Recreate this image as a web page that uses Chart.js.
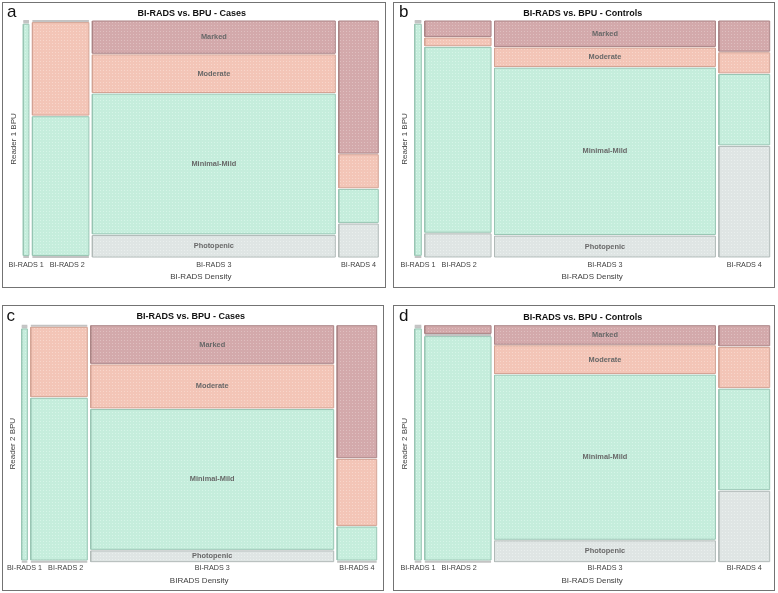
<!DOCTYPE html>
<html>
<head>
<meta charset="utf-8">
<script src="https://cdn.jsdelivr.net/npm/chart.js@4.4.1/dist/chart.umd.min.js"></script>
<style>
    body { margin: 0; background: #fff; width: 778px; height: 593px; position: relative; overflow: hidden; font-family: "Liberation Sans", Arial, sans-serif; }
    .panel { position: absolute; border: 1px solid #737373; box-sizing: border-box; background: #fff; }
    .panel canvas { position: absolute; left: 0; top: 0; }
    .tag { position: absolute; font-size: 17px; line-height: 17px; color: #111; }
</style>
</head>
<body>
<div class="panel" style="left:2px;top:2px;width:384px;height:286px"><canvas id="chartA" width="382" height="284"></canvas><div class="tag" style="left:4px;top:0px">a</div></div>
<div class="panel" style="left:393px;top:2px;width:382px;height:286px"><canvas id="chartB" width="380" height="284"></canvas><div class="tag" style="left:5px;top:0px">b</div></div>
<div class="panel" style="left:2px;top:305px;width:382px;height:286px"><canvas id="chartC" width="380" height="284"></canvas><div class="tag" style="left:3.5px;top:0.5px">c</div></div>
<div class="panel" style="left:393px;top:305px;width:382px;height:286px"><canvas id="chartD" width="380" height="284"></canvas><div class="tag" style="left:5px;top:0.5px">d</div></div>
<script>
// Kategórie na osi X (šírka stĺpca = počet prípadov) a kategórie BPU zdola nahor
const densityLabels = ["BI-RADS 1", "BI-RADS 2", "BI-RADS 3", "BI-RADS 4"];
const bpuLabels = ["Photopenic", "Minimal-Mild", "Moderate", "Marked"];

// a - Reader 1, Cases (počty v stĺpcoch BI-RADS 1..4)
const r1CasesPhotopenic  = [0, 0, 4, 1];
const r1CasesMinimalMild = [1, 6, 26, 1];
const r1CasesModerate    = [0, 4, 7, 1];
const r1CasesMarked      = [0, 0, 6, 4];

// b - Reader 1, Controls
const r1CtrlPhotopenic  = [0, 3, 9, 11];
const r1CtrlMinimalMild = [3, 24, 72, 7];
const r1CtrlModerate    = [0, 1, 8, 2];
const r1CtrlMarked      = [0, 2, 11, 3];

// c - Reader 2, Cases
const r2CasesPhotopenic  = [0, 0, 2, 0];
const r2CasesMinimalMild = [1, 7, 26, 1];
const r2CasesModerate    = [0, 3, 8, 2];
const r2CasesMarked      = [0, 0, 7, 4];

// d - Reader 2, Controls
const r2CtrlPhotopenic  = [0, 0, 9, 7];
const r2CtrlMinimalMild = [3, 29, 71, 10];
const r2CtrlModerate    = [0, 0, 12, 4];
const r2CtrlMarked      = [0, 1, 8, 2];

// Farby buniek (rovnaké poradie ako bpuLabels)
const fillColors = ["#dfe5e4", "#c5eddc", "#f3c5b7", "#d3a9ab"];
const dotColors  = ["#eaefee", "#d6f5e8", "#f8d6cb", "#dfbfc0"];
const edgeColors = ["#b1bab8", "#98c5b3", "#d3a394", "#aa8385"];
const zeroColor = "#c3c3c3";

const GAP_X = 1.0;     // medzera medzi stĺpcami (v jednotkách osi)
const GAP_Y = 0.7;     // medzera medzi bunkami
const LABEL_GAP = 6;   // min. medzera medzi popiskami osi X (px)

Chart.defaults.font.family = "'Liberation Sans', Arial, sans-serif";

// Jemný bodkovaný vzor výplne
function makePattern(base, dot) {
    const c = document.createElement("canvas");
    c.width = 3; c.height = 3;
    const g = c.getContext("2d");
    g.fillStyle = base;
    g.fillRect(0, 0, 3, 3);
    g.fillStyle = dot;
    g.fillRect(1, 1, 1, 1);
    return g.createPattern(c, "repeat");
}

// Vytvorí obdĺžniky mozaiky ako uzavreté čiary
function mosaicDatasets(series) {
    const colTotals = densityLabels.map((_, i) => series.reduce((s, arr) => s + arr[i], 0));
    const total = colTotals.reduce((a, b) => a + b, 0);
    const widest = colTotals.indexOf(Math.max(...colTotals));
    const sets = [];
    const centers = [];
    let cumX = 0;
    colTotals.forEach((ct, i) => {
        const x0 = cumX / total * 100 + i * GAP_X;
        const x1 = x0 + ct / total * 100;
        centers.push((x0 + x1) / 2);
        cumX += ct;
        let cumY = 0;
        series.forEach((arr, j) => {
            const v = arr[i];
            const y0 = cumY / ct * 100 + j * GAP_Y;
            const y1 = y0 + v / ct * 100;
            cumY += v;
            sets.push({
                data: [{x: x0, y: y0}, {x: x1, y: y0}, {x: x1, y: y1}, {x: x0, y: y1}, {x: x0, y: y0}],
                showLine: true,
                fill: v > 0 ? "shape" : false,
                backgroundColor: makePattern(fillColors[j], dotColors[j]),
                borderColor: v > 0 ? edgeColors[j] : zeroColor,
                borderWidth: v > 0 ? 1 : 2,
                pointRadius: 0,
                pointHoverRadius: 0,
                tension: 0,
                borderJoinStyle: "miter",
                clip: false,
                cellText: (i === widest && v > 0) ? bpuLabels[j] : null
            });
        });
    });
    return {sets, centers};
}

// Popisky buniek v najširšom stĺpci
const cellTextPlugin = {
    id: "cellText",
    afterDatasetsDraw(chart) {
        const {ctx, scales: {x, y}} = chart;
        ctx.save();
        ctx.font = "bold 7.4px 'Liberation Sans', Arial, sans-serif";
        ctx.fillStyle = "#686868";
        ctx.textAlign = "center";
        ctx.textBaseline = "middle";
        chart.data.datasets.forEach(ds => {
            if (!ds.cellText) return;
            const cx = x.getPixelForValue((ds.data[0].x + ds.data[1].x) / 2);
            const cy = y.getPixelForValue((ds.data[0].y + ds.data[2].y) / 2);
            ctx.fillText(ds.cellText, cx, cy);
        });
        ctx.restore();
    }
};

// Popisky osi X sa nesmú prekrývať - posunie ich doprava
const tickSpreadPlugin = {
    id: "tickSpread",
    beforeDraw(chart) {
        const items = chart.scales.x.getLabelItems();
        const ctx = chart.ctx;
        let prevRight = -Infinity;
        ctx.save();
        items.forEach(item => {
            ctx.font = item.font.string;
            const w = ctx.measureText(item.label).width;
            let cx = item.options.translation[0];
            if (cx - w / 2 < prevRight + LABEL_GAP) cx = prevRight + LABEL_GAP + w / 2;
            item.options.translation[0] = cx;
            prevRight = cx + w / 2;
        });
        ctx.restore();
    }
};

function VytvorMozaiku(p) {
    const {sets, centers} = mosaicDatasets(p.series);
    return new Chart(document.getElementById(p.canvas), {
        type: "scatter",
        data: { datasets: sets },
        options: {
            responsive: false,
            animation: false,
            events: [],
            layout: { padding: p.pad },
            plugins: {
                legend: { display: false },
                tooltip: { enabled: false },
                title: {
                    display: true,
                    text: p.title,
                    color: "#111",
                    font: { size: 9, weight: "bold" },
                    padding: p.titlePad
                }
            },
            scales: {
                x: {
                    type: "linear",
                    min: 0,
                    max: 100 + 3 * GAP_X,
                    grid: { display: false, drawTicks: false },
                    border: { display: false },
                    afterBuildTicks: scale => { scale.ticks = centers.map(c => ({value: c})); },
                    ticks: {
                        autoSkip: false,
                        maxRotation: 0,
                        padding: p.tickPad,
                        color: "#404040",
                        font: { size: 7.2 },
                        callback: (v, idx) => densityLabels[idx]
                    },
                    title: {
                        display: true,
                        text: p.xTitle,
                        color: "#404040",
                        font: { size: 8 },
                        padding: p.xPad
                    }
                },
                y: {
                    type: "linear",
                    min: 0,
                    max: 100 + 3 * GAP_Y,
                    grid: { display: false, drawTicks: false },
                    border: { display: false },
                    ticks: { display: false },
                    title: {
                        display: true,
                        text: p.yTitle,
                        color: "#404040",
                        font: { size: 8 },
                        padding: p.yPad
                    }
                }
            }
        },
        plugins: [cellTextPlugin, tickSpreadPlugin]
    });
}

const panels = [
    { canvas: "chartA", title: "BI-RADS vs. BPU - Cases", yTitle: "Reader 1 BPU", xTitle: "BI-RADS Density",
      series: [r1CasesPhotopenic, r1CasesMinimalMild, r1CasesModerate, r1CasesMarked],
      pad: {left: 2, right: 6.7, top: 0, bottom: 1.4}, titlePad: {top: 4.9, bottom: 2.3},
      yPad: {top: 4.4, bottom: 4.3}, tickPad: 3.6, xPad: {top: -0.9, bottom: 4} },
    { canvas: "chartB", title: "BI-RADS vs. BPU - Controls", yTitle: "Reader 1 BPU", xTitle: "BI-RADS Density",
      series: [r1CtrlPhotopenic, r1CtrlMinimalMild, r1CtrlModerate, r1CtrlMarked],
      pad: {left: 2, right: 4.3, top: 0, bottom: 1.2}, titlePad: {top: 4.9, bottom: 2.3},
      yPad: {top: 3.9, bottom: 5.2}, tickPad: 3.4, xPad: {top: -0.2, bottom: 4} },
    { canvas: "chartC", title: "BI-RADS vs. BPU - Cases", yTitle: "Reader 2 BPU", xTitle: "BIRADS Density",
      series: [r2CasesPhotopenic, r2CasesMinimalMild, r2CasesModerate, r2CasesMarked],
      pad: {left: 2, right: 6.3, top: 0, bottom: 0.5}, titlePad: {top: 5.6, bottom: 3.3},
      yPad: {top: 3, bottom: 4.1}, tickPad: 1.8, xPad: {top: 2.3, bottom: 3.7} },
    { canvas: "chartD", title: "BI-RADS vs. BPU - Controls", yTitle: "Reader 2 BPU", xTitle: "BI-RADS Density",
      series: [r2CtrlPhotopenic, r2CtrlMinimalMild, r2CtrlModerate, r2CtrlMarked],
      pad: {left: 2, right: 4.3, top: 0, bottom: 0.5}, titlePad: {top: 5.9, bottom: 3.0},
      yPad: {top: 3.9, bottom: 5.2}, tickPad: 2.2, xPad: {top: 1.2, bottom: 4} }
];

panels.forEach(p => VytvorMozaiku(p));
</script>
</body>
</html>
